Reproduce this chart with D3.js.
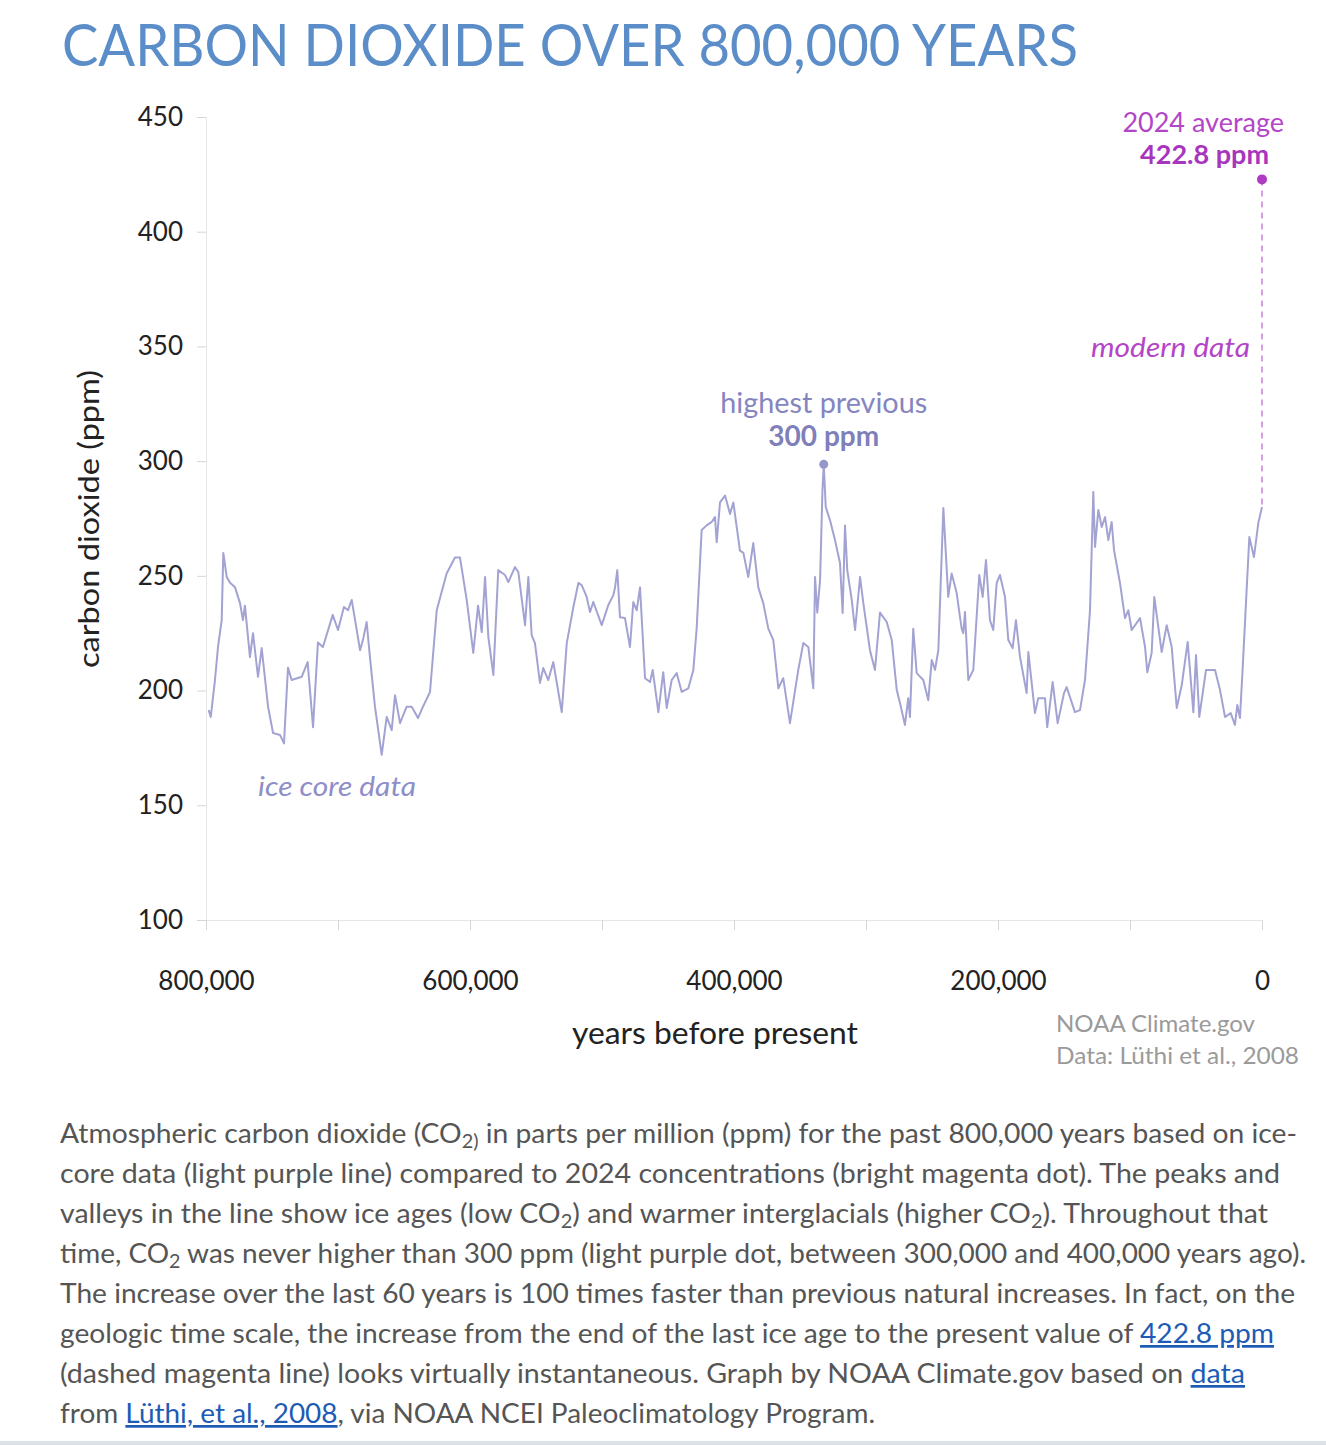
<!DOCTYPE html>
<html lang="en">
<head>
<meta charset="UTF-8">
<title>Carbon dioxide over 800,000 years</title>
<style>
  body, html { margin: 0; padding: 0; background: #fff; }
  svg { display: block; font-family: Lato, "Open Sans", sans-serif; }
</style>
</head>
<body>
<svg id="chart" width="1326" height="1445"></svg>
<script src="https://cdn.jsdelivr.net/npm/d3@7"></script>
<script>
// ice core record, thousands of years before present
var kyrBP = [798, 796.4, 793.2, 790.9, 788.1, 786.9, 784.3, 781.8, 778, 774.2, 772, 770.5, 766.7, 764.4, 760.6,
  757.8, 753, 749.2, 743.9, 740.9, 737.9, 735.1, 727.5, 723, 718.9, 715.2, 711.4, 704, 700, 695.5, 692.4, 689.6,
  683.3, 681.1, 678.3, 675.8, 672, 666.9, 663.1, 659.3, 656.8, 653, 648, 644.2, 639.4, 635.6, 630.3, 625.2, 617.7,
  611.4, 609.1, 607.6, 602.5, 597.5, 593.9, 591.1, 588.6, 586.1, 582.3, 578.6, 573.5, 571, 565.9, 563.4, 558.3,
  555.8, 553.3, 550.8, 547, 544.5, 540.7, 536.9, 533.1, 530.5, 526.7, 521.7, 517.9, 515.4, 511.6, 509.1, 506.6,
  500.2, 495.2, 491.4, 490.2, 488.4, 486.4, 482.6, 478.8, 476.3, 473.7, 471.2, 467.4, 463.6, 461.6, 457.3, 453.6,
  451, 447.2, 443.4, 439.6, 434.6, 430.8, 428.3, 424.5, 420.7, 416.9, 414.4, 413.1, 410.6, 406.8, 403, 400.5,
  395.5, 392.9, 389.2, 385.4, 381.6, 377.8, 374, 370.2, 366.4, 362.7, 357.6, 351.3, 347.5, 343.7, 339.9, 338.6,
  336.9, 334.8, 333, 332, 330.5, 327.3, 323.5, 319.7, 317.7, 315.9, 314.2, 310.8, 308.3, 304.5, 302, 297, 293.2,
  289.4, 284.3, 280.5, 276.7, 274.2, 270.5, 268, 266.7, 264.2, 261.6, 256.6, 252.8, 250.2, 247.7, 245.2, 241.4,
  237.7, 235.1, 231.3, 228.8, 227.5, 226.3, 225, 222.5, 218.7, 214.2, 211.6, 209.1, 206.1, 203.6, 201, 198.5,
  194.7, 192.2, 188.9, 186.4, 183.3, 178.3, 177, 172, 169.5, 164.4, 162.7, 158.6, 154.8, 150, 148, 141.7, 137.9,
  134.1, 130.3, 127.8, 126.5, 124, 121.4, 118.9, 116.4, 113.9, 112.1, 107.6, 103.8, 101.3, 98.7, 92.4, 88.6, 86.9,
  83.6, 81.6, 76, 72.2, 68.4, 64.6, 60.8, 56.3, 52, 50, 47.5, 42.4, 35.6, 31.8, 28, 23.7, 20.5, 18.7, 16.7, 14.6,
  12.1, 9.6, 6.1, 2.8, 0];
var co2ppm = [191.5, 188.5, 204.6, 219, 230.7, 260, 249.5, 247, 245, 238, 230.7, 237, 214.6, 225, 206,
  218.5, 193, 181.5, 180.6, 177, 210, 204.6, 206, 212.4, 184, 221, 219, 233, 226.4, 236.4, 235, 239.5,
  217.6, 222, 229.9, 214.6, 193, 172, 188.5, 182.8, 198, 185.8, 193, 193, 188, 193, 199.4, 235, 251,
  258, 258, 258, 239.5, 216.4, 237, 225.5, 249.5, 223.3, 206.8, 252.5, 250.4, 247.3, 253.8, 251.7, 228.5,
  249.5, 224.2, 220.7, 203.3, 209.8, 204.6, 212.4, 199.4, 190.6, 220.7, 236.4, 246.9, 246, 240.8, 234.2, 238.6,
  228.5, 237.3, 241.6, 244.7, 252.5, 232, 231.6, 219, 238.6, 235, 245, 205.4, 203.7, 209, 190.6, 208,
  192.4, 204.6, 207.6, 199.4, 201, 209, 227, 270, 272, 273.5, 275.6, 264.7, 282, 285, 277, 282,
  261, 260, 249.5, 264.3, 245, 238, 227, 222, 201, 205.4, 185.8, 209, 220.7, 219, 201, 249.5,
  234, 248, 287, 298.6, 280, 274.3, 265.6, 255.6, 233.8, 272, 252.5, 239.5, 226.4, 249.5, 238, 217.6, 209,
  234, 229.9, 222, 200.2, 194.5, 185, 196.7, 188.5, 227, 207.6, 204.6, 195.8, 213.3, 209, 217.6, 279.6,
  240.8, 251, 242.5, 232, 227, 225, 234.2, 204.6, 209, 250.4, 240.8, 256.9, 230.7, 226.4, 246.9, 250.4,
  240.8, 222, 218.5, 230.7, 214.6, 198.9, 216.8, 190.2, 196.7, 196.7, 184.1, 203.7, 185.8, 198.9, 201.5, 190.6, 191.5,
  204.6, 235, 286.5, 262.6, 278.7, 271.3, 275.6, 265.6, 273.5, 261.2, 246.9, 231.6, 235, 226.4, 231.6, 219, 208,
  216.4, 240.8, 216.8, 228.5, 219, 192.4, 202.4, 221.2, 190.6, 215.5, 188.5, 209, 209, 200.2, 188.5, 190.2, 185, 193.7, 188, 210.3,
  238.6, 266.9, 258.2, 273, 280];

var modernYear = 2024;
var modernPpm = 422.8;

var yTicks = [100, 150, 200, 250, 300, 350, 400, 450];
var xTicks = [800000, 700000, 600000, 500000, 400000, 300000, 200000, 100000, 0];

var captionLines = [
  [{t: "Atmospheric carbon dioxide (CO"}, {t: "2)", sub: true}, {t: " in parts per million (ppm) for the past 800,000 years based on ice-"}],
  [{t: "core data (light purple line) compared to 2024 concentrations (bright magenta dot). The peaks and"}],
  [{t: "valleys in the line show ice ages (low CO"}, {t: "2", sub: true}, {t: ") and warmer interglacials (higher CO"}, {t: "2", sub: true}, {t: "). Throughout that"}],
  [{t: "time, CO"}, {t: "2", sub: true}, {t: " was never higher than 300 ppm (light purple dot, between 300,000 and 400,000 years ago)."}],
  [{t: "The increase over the last 60 years is 100 times faster than previous natural increases. In fact, on the"}],
  [{t: "geologic time scale, the increase from the end of the last ice age to the present value of "}, {t: "422.8 ppm", link: true}],
  [{t: "(dashed magenta line) looks virtually instantaneous. Graph by NOAA Climate.gov based on "}, {t: "data", link: true}],
  [{t: "from "}, {t: "Lüthi, et al., 2008", link: true}, {t: ", via NOAA NCEI Paleoclimatology Program."}]
];
var captionWidths = [1237, 1220, 1208, 1246, 1235, 1214, 1185, 815];

var ice = kyrBP.map(function (k, i) { return {year: k * 1000, ppm: co2ppm[i]}; });

var svg = d3.select("#chart");

var x = d3.scaleLinear().domain([800000, 0]).range([206, 1262]);
var y = d3.scaleLinear().domain([100, 450]).range([920, 117]);

var purple = "#a3a3d3", magenta = "#ae3cc3";

// title
svg.append("text")
  .attr("x", 62).attr("y", 66)
  .attr("font-size", 58)
  .attr("fill", "#5b8ec8")
  .attr("textLength", 1016)
  .attr("lengthAdjust", "spacingAndGlyphs")
  .text("CARBON DIOXIDE OVER 800,000 YEARS");

// axes
var yAxis = svg.append("g")
  .attr("transform", "translate(206,0)")
  .call(d3.axisLeft(y).tickValues(yTicks).tickSize(9).tickSizeOuter(0).tickPadding(14));
yAxis.select(".domain").attr("stroke", "#e6e6e6");
yAxis.selectAll(".tick line").attr("stroke", "#d6d6d6");
yAxis.selectAll("text").attr("font-size", 26).attr("fill", "#222").attr("font-family", "Lato");

var xAxis = svg.append("g")
  .attr("transform", "translate(0,920)")
  .call(d3.axisBottom(x).tickValues(xTicks).tickSize(10).tickSizeOuter(0)
    .tickFormat(function (d) { return d % 200000 === 0 ? d3.format(",")(d) : ""; }));
xAxis.select(".domain").attr("stroke", "#e6e6e6");
xAxis.selectAll(".tick line").attr("stroke", "#d6d6d6");
xAxis.selectAll("text").attr("font-size", 26).attr("fill", "#222").attr("font-family", "Lato")
  .attr("y", 70).attr("dy", null);

svg.append("text")
  .attr("transform", "translate(99,519) rotate(-90)")
  .attr("text-anchor", "middle")
  .attr("font-size", 29).attr("fill", "#222")
  .attr("textLength", 298).attr("lengthAdjust", "spacingAndGlyphs")
  .text("carbon dioxide (ppm)");

svg.append("text")
  .attr("x", 715).attr("y", 1044)
  .attr("text-anchor", "middle")
  .attr("font-size", 31).attr("fill", "#222")
  .attr("textLength", 286).attr("lengthAdjust", "spacingAndGlyphs")
  .text("years before present");

svg.append("text").attr("x", 1056).attr("y", 1032)
  .attr("font-size", 23).attr("fill", "#9a9a9a")
  .attr("textLength", 199).attr("lengthAdjust", "spacingAndGlyphs")
  .text("NOAA Climate.gov");
svg.append("text").attr("x", 1056).attr("y", 1064)
  .attr("font-size", 23).attr("fill", "#9a9a9a")
  .attr("textLength", 243).attr("lengthAdjust", "spacingAndGlyphs")
  .text("Data: Lüthi et al., 2008");

// ice core line
var line = d3.line()
  .x(function (d) { return x(d.year); })
  .y(function (d) { return y(d.ppm); });

svg.append("path")
  .datum(ice)
  .attr("d", line)
  .attr("fill", "none")
  .attr("stroke", purple)
  .attr("stroke-width", 2)
  .attr("stroke-linejoin", "round");

// highest previous
var peak = ice.reduce(function (a, b) { return b.ppm > a.ppm ? b : a; });
svg.append("circle")
  .attr("cx", x(peak.year)).attr("cy", y(peak.ppm)).attr("r", 4.5)
  .attr("fill", "#9696c9");
svg.append("text")
  .attr("x", x(peak.year)).attr("y", 413)
  .attr("text-anchor", "middle").attr("font-size", 28).attr("fill", "#8585bf")
  .attr("textLength", 207).attr("lengthAdjust", "spacingAndGlyphs")
  .text("highest previous");
svg.append("text")
  .attr("x", x(peak.year)).attr("y", 446)
  .attr("text-anchor", "middle").attr("font-size", 28).attr("font-weight", "bold").attr("fill", "#7f7fba")
  .text("300 ppm");

svg.append("text")
  .attr("x", 258).attr("y", 796)
  .attr("font-size", 27).attr("font-style", "italic").attr("fill", "#8e8ec8")
  .attr("textLength", 158).attr("lengthAdjust", "spacingAndGlyphs")
  .text("ice core data");

// modern value
var last = ice[ice.length - 1];
svg.append("line")
  .attr("x1", x(0)).attr("x2", x(0))
  .attr("y1", y(modernPpm)).attr("y2", y(last.ppm))
  .attr("stroke", "#d89ee4").attr("stroke-width", 2)
  .attr("stroke-dasharray", "6,5");
svg.append("circle")
  .attr("cx", x(0)).attr("cy", y(modernPpm)).attr("r", 5)
  .attr("fill", magenta);
svg.append("text")
  .attr("x", 1284).attr("y", 132)
  .attr("text-anchor", "end").attr("font-size", 27).attr("fill", "#b445c8")
  .text(modernYear + " average");
svg.append("text")
  .attr("x", 1269).attr("y", 164)
  .attr("text-anchor", "end").attr("font-size", 27).attr("font-weight", "bold").attr("fill", "#a835bd")
  .text(modernPpm + " ppm");
svg.append("text")
  .attr("x", 1250).attr("y", 357)
  .attr("text-anchor", "end").attr("font-size", 27).attr("font-style", "italic").attr("fill", "#b445c8")
  .attr("textLength", 159).attr("lengthAdjust", "spacingAndGlyphs")
  .text("modern data");

// caption
var cap = svg.append("g").attr("font-size", 27).attr("fill", "#555");
captionLines.forEach(function (segs, i) {
  var t = cap.append("text")
    .attr("x", 60).attr("y", 1143 + i * 40)
    .attr("textLength", captionWidths[i])
    .attr("lengthAdjust", "spacingAndGlyphs");
  segs.forEach(function (s) {
    var ts = t.append("tspan").text(s.t);
    if (s.sub) ts.attr("font-size", 19).attr("baseline-shift", "-5");
    if (s.link) ts.attr("fill", "#1d5bb5").attr("text-decoration", "underline");
  });
});

svg.append("rect")
  .attr("x", 0).attr("y", 1441).attr("width", 1326).attr("height", 4)
  .attr("fill", "#dde2e8");
</script>
</body>
</html>
